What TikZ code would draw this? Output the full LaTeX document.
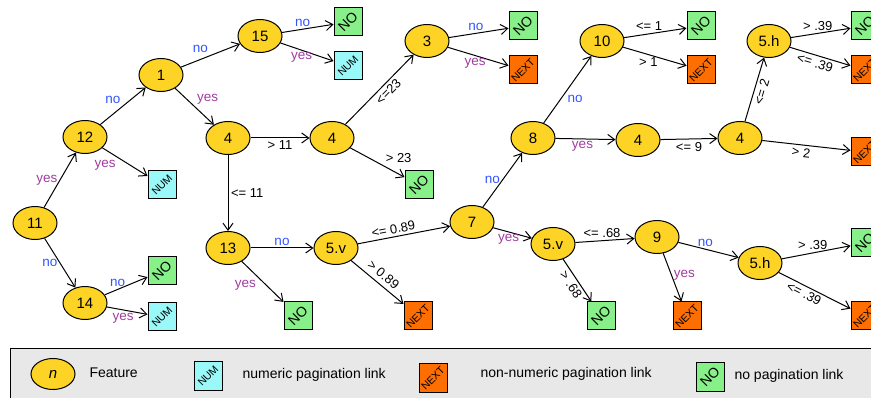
\documentclass[tikz,border=0pt]{standalone}
\usepackage{fontspec}
\setmainfont{Liberation Sans}
\usepackage{xcolor}
\usepackage{graphicx}
\usetikzlibrary{shapes.geometric,arrows.meta}

\definecolor{featgold}{RGB}{253,212,37}
\definecolor{numcyan}{RGB}{154,248,248}
\definecolor{nogreen}{RGB}{136,240,136}
\definecolor{nextorange}{RGB}{255,110,0}
\definecolor{noblue}{RGB}{51,85,255}
\definecolor{yespurple}{RGB}{160,60,160}
\definecolor{legendgray}{RGB}{232,232,232}

\newcommand{\diag}[1]{\rotatebox{45}{#1}}

\begin{document}
\begin{tikzpicture}[x=1pt,y=-1pt,
    feat/.style={ellipse,draw,line width=1pt,fill=featgold,minimum width=44pt,minimum height=33pt,inner sep=0pt,font=\fontsize{15}{17}\selectfont},
    leaf/.style={draw,line width=1pt,minimum size=28pt,inner sep=0pt},
    numleaf/.style={leaf,fill=numcyan,font=\fontsize{10.5}{11}\selectfont},
    nextleaf/.style={leaf,fill=nextorange,font=\fontsize{10.5}{11}\selectfont},
    noleaf/.style={leaf,fill=nogreen,font=\fontsize{14}{15}\selectfont},
    edge/.style={-{Straight Barb[length=7pt,width=10pt]},line width=1pt},
    nolab/.style={text=noblue,inner sep=2pt,font=\fontsize{13.5}{15}\selectfont},
    yeslab/.style={text=yespurple,inner sep=2pt,font=\fontsize{13.5}{15}\selectfont},
    cond/.style={inner sep=2.5pt,font=\fontsize{13}{14}\selectfont},
    legtext/.style={anchor=west,font=\fontsize{14}{16}\selectfont}]
  \useasboundingbox (0,0) rectangle (871,398);
  \clip (0,0) rectangle (871,398);

  % legend
  \node (legbox) at (450,380) [draw,line width=1pt,fill=legendgray,minimum width=880pt,minimum height=62pt,inner sep=0pt] {};
  \node (legfeat) at (53,374) [feat,minimum height=31pt] {\textit{n}};
  \node (legfeattext) at (86,373) [legtext] {Feature};
  \node (legnum) at (208,376) [numleaf] {\diag{NUM}};
  \node (legnumtext) at (239,375) [legtext] {numeric pagination link};
  \node (legnext) at (433,378) [nextleaf] {\diag{NEXT}};
  \node (legnexttext) at (477,374) [legtext] {non-numeric pagination link};
  \node (legno) at (710,377) [noleaf] {\diag{NO}};
  \node (legnotext) at (731,376) [legtext] {no pagination link};

  % features
  \node (f11) at (35,223) [feat] {11};
  \node (f12) at (85,137) [feat] {12};
  \node (f1) at (161,75) [feat] {1};
  \node (f15) at (260,36) [feat] {15};
  \node (f4a) at (228,138) [feat] {4};
  \node (f14) at (85,303) [feat] {14};
  \node (f13) at (228,248) [feat] {13};
  \node (f4b) at (332,138) [feat] {4};
  \node (f3) at (427,41) [feat] {3};
  \node (f5va) at (336,248) [feat] {5.v};
  \node (f7) at (472,222) [feat] {7};
  \node (f8) at (533,138) [feat] {8};
  \node (f5vb) at (553,244) [feat] {5.v};
  \node (f10) at (602,41) [feat] {10};
  \node (f4c) at (638,140) [feat] {4};
  \node (f4d) at (740,138) [feat] {4};
  \node (f5ha) at (769,41) [feat] {5.h};
  \node (f9) at (657,237) [feat] {9};
  \node (f5hb) at (760,263) [feat] {5.h};

  % leaves
  \node (l15no) at (348,22) [noleaf] {\diag{NO}};
  \node (l15num) at (348,66) [numleaf] {\diag{NUM}};
  \node (l12num) at (162,185) [numleaf] {\diag{NUM}};
  \node (l14no) at (162,271) [noleaf] {\diag{NO}};
  \node (l14num) at (162,317) [numleaf] {\diag{NUM}};
  \node (l13no) at (298,316) [noleaf] {\diag{NO}};
  \node (l5vanext) at (418,316) [nextleaf] {\diag{NEXT}};
  \node (l3no) at (523,26) [noleaf] {\diag{NO}};
  \node (l3next) at (523,70) [nextleaf] {\diag{NEXT}};
  \node (l4bno) at (419,185) [noleaf] {\diag{NO}};
  \node (l10no) at (701,26) [noleaf] {\diag{NO}};
  \node (l10next) at (701,70) [nextleaf] {\diag{NEXT}};
  \node (l5hano) at (865,26) [noleaf] {\diag{NO}};
  \node (l5hanext) at (865,70) [nextleaf] {\diag{NEXT}};
  \node (l4dnext) at (865,152) [nextleaf] {\diag{NEXT}};
  \node (l5vbno) at (601,316) [noleaf] {\diag{NO}};
  \node (l9next) at (687,316) [nextleaf] {\diag{NEXT}};
  \node (l5hbno) at (865,243) [noleaf] {\diag{NO}};
  \node (l5hbnext) at (865,316) [nextleaf] {\diag{NEXT}};

  % left part
  \draw[edge] (f11) -- node[left,yeslab] {yes} (f12);
  \draw[edge] (f11) -- node[left,nolab] {no} (f14);
  \draw[edge] (f12) -- node[above left,nolab] {no} (f1);
  \draw[edge] (f12) -- node[pos=.35,below left,yeslab] {yes} (l12num);
  \draw[edge] (f1) -- node[above left,nolab] {no} (f15);
  \draw[edge] (f1) -- node[above right,yeslab] {yes} (f4a);
  \draw[edge] (f15) -- node[pos=.4,above,nolab] {no} (l15no);
  \draw[edge] (f15) -- node[pos=.4,below,yeslab] {yes} (l15num);
  \draw[edge] (f14) -- node[pos=.3,above,nolab] {no} (l14no);
  \draw[edge] (f14) -- node[pos=.4,below=1pt,yeslab] {yes} (l14num);
  \draw[edge] (f4a) -- node[below,cond] {> 11} (f4b);
  \draw[edge] (f4a) -- node[right,cond] {<= 11} (f13);
  \draw[edge] (f13) -- node[above,nolab] {no} (f5va);
  \draw[edge] (f13) -- node[pos=.4,below left,yeslab] {yes} (l13no);

  % middle part
  \draw[edge] (f4b) -- node[pos=.55,sloped,below,cond] {<=23} (f3);
  \draw[edge] (f4b) -- node[pos=.6,above right,cond] {> 23} (l4bno);
  \draw[edge] (f3) -- node[pos=.45,above,nolab] {no} (l3no);
  \draw[edge] (f3) -- node[pos=.45,below,yeslab] {yes} (l3next);
  \draw[edge] (f5va) -- node[pos=.4,sloped,above,cond] {<= 0.89} (f7);
  \draw[edge] (f5va) -- node[pos=.5,sloped,above=2pt,cond] {> 0.89} (l5vanext);
  \draw[edge] (f7) -- node[left,nolab] {no} (f8);
  \draw[edge] (f7) -- node[pos=.4,below,yeslab] {yes} (f5vb);
  \draw[edge] (f8) -- node[pos=.45,below right,nolab] {no} (f10);
  \draw[edge] (f8) -- node[pos=.45,below,yeslab] {yes} (f4c);

  % right part
  \draw[edge] (f10) -- node[pos=.4,above,cond] {<= 1} (l10no);
  \draw[edge] (f10) -- node[pos=.4,below,cond] {> 1} (l10next);
  \draw[edge] (f4c) -- node[below,cond] {<= 9} (f4d);
  \draw[edge] (f4d) -- node[sloped,below,cond] {<= 2} (f5ha);
  \draw[edge] (f4d) -- node[pos=.45,sloped,below,cond] {> 2} (l4dnext);
  \draw[edge] (f5ha) -- node[pos=.45,above,cond] {> .39} (l5hano);
  \draw[edge] (f5ha) -- node[pos=.45,sloped,below,cond] {<= .39} (l5hanext);
  \draw[edge] (f5vb) -- node[pos=.45,above,cond] {<= .68} (f9);
  \draw[edge] (f5vb) -- node[pos=.5,sloped,below,cond] {> .68} (l5vbno);
  \draw[edge] (f9) -- node[pos=.45,above,nolab] {no} (f5hb);
  \draw[edge] (f9) -- node[pos=.45,right,yeslab] {yes} (l9next);
  \draw[edge] (f5hb) -- node[pos=.45,above,cond] {> .39} (l5hbno);
  \draw[edge] (f5hb) -- node[pos=.4,sloped,below,cond] {<= .39} (l5hbnext);
\end{tikzpicture}
\end{document}
